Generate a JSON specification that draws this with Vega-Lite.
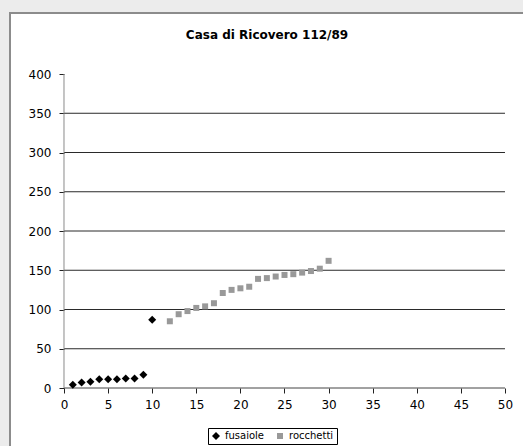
{
  "$schema": "https://vega.github.io/schema/vega-lite/v6.json",
  "autosize": "none",
  "padding": {"left": 10, "top": 13, "right": 0, "bottom": 0},
  "width": 514,
  "height": 434,
  "background": "#ececec",
  "title": {
    "text": "Casa di Ricovero 112/89",
    "font": "DejaVu Sans",
    "fontSize": 12,
    "fontWeight": "bold",
    "color": "#000000",
    "anchor": "middle",
    "frame": "group",
    "baseline": "middle",
    "offset": -34
  },
  "config": {
    "view": {"fill": "#ffffff", "stroke": "#8c8c8c", "strokeWidth": 2},
    "axis": {
      "domain": false,
      "grid": false,
      "title": null,
      "labelFont": "DejaVu Sans",
      "labelFontSize": 12,
      "labelColor": "#000000",
      "tickColor": "#222222",
      "tickSize": 5
    },
    "legend": {
      "labelFont": "DejaVu Sans",
      "labelFontSize": 10,
      "labelColor": "#000000"
    }
  },
  "datasets": {
    "pezzi": [
      {"n": 1, "peso": 4, "serie": "fusaiole"},
      {"n": 2, "peso": 7, "serie": "fusaiole"},
      {"n": 3, "peso": 8, "serie": "fusaiole"},
      {"n": 4, "peso": 11, "serie": "fusaiole"},
      {"n": 5, "peso": 11, "serie": "fusaiole"},
      {"n": 6, "peso": 11, "serie": "fusaiole"},
      {"n": 7, "peso": 12, "serie": "fusaiole"},
      {"n": 8, "peso": 12, "serie": "fusaiole"},
      {"n": 9, "peso": 17, "serie": "fusaiole"},
      {"n": 10, "peso": 87, "serie": "fusaiole"},
      {"n": 12, "peso": 85, "serie": "rocchetti"},
      {"n": 13, "peso": 94, "serie": "rocchetti"},
      {"n": 14, "peso": 98, "serie": "rocchetti"},
      {"n": 15, "peso": 102, "serie": "rocchetti"},
      {"n": 16, "peso": 104, "serie": "rocchetti"},
      {"n": 17, "peso": 108, "serie": "rocchetti"},
      {"n": 18, "peso": 121, "serie": "rocchetti"},
      {"n": 19, "peso": 125, "serie": "rocchetti"},
      {"n": 20, "peso": 127, "serie": "rocchetti"},
      {"n": 21, "peso": 129, "serie": "rocchetti"},
      {"n": 22, "peso": 139, "serie": "rocchetti"},
      {"n": 23, "peso": 140, "serie": "rocchetti"},
      {"n": 24, "peso": 142, "serie": "rocchetti"},
      {"n": 25, "peso": 144, "serie": "rocchetti"},
      {"n": 26, "peso": 145, "serie": "rocchetti"},
      {"n": 27, "peso": 147, "serie": "rocchetti"},
      {"n": 28, "peso": 149, "serie": "rocchetti"},
      {"n": 29, "peso": 152, "serie": "rocchetti"},
      {"n": 30, "peso": 162, "serie": "rocchetti"}
    ],
    "griglia": [
      {"g": 50}, {"g": 100}, {"g": 150}, {"g": 200},
      {"g": 250}, {"g": 300}, {"g": 350}
    ]
  },
  "layer": [
    {
      "data": {"name": "griglia"},
      "mark": {"type": "rule", "color": "#2a2a2a", "strokeWidth": 1},
      "encoding": {
        "y": {"field": "g", "type": "quantitative",
              "scale": {"domain": [-75.159, 477.707], "nice": false, "zero": false},
              "axis": {"values": [0, 50, 100, 150, 200, 250, 300, 350, 400], "offset": -54, "labelPadding": 8, "labelFlush": false, "labelOverlap": false, "title": null}},
        "x": {"datum": 0, "type": "quantitative",
              "scale": {"domain": [-6.1224, 52.1542], "nice": false, "zero": false},
              "axis": {"values": [0, 5, 10, 15, 20, 25, 30, 35, 40, 45, 50], "offset": -59, "labelPadding": 6, "labelFlush": false, "labelOverlap": false, "title": null}},
        "x2": {"datum": 50}
      }
    },
    {
      "data": {"values": [{"a": 0}]},
      "mark": {"type": "rule", "color": "#444444", "strokeWidth": 1},
      "encoding": {
        "y": {"datum": 0, "type": "quantitative",
              "axis": {"values": [0, 50, 100, 150, 200, 250, 300, 350, 400], "offset": -54, "labelPadding": 8, "labelFlush": false, "labelOverlap": false, "title": null}},
        "x": {"datum": 0, "type": "quantitative",
              "axis": {"values": [0, 5, 10, 15, 20, 25, 30, 35, 40, 45, 50], "offset": -59, "labelPadding": 6, "labelFlush": false, "labelOverlap": false, "title": null}},
        "x2": {"datum": 50}
      }
    },
    {
      "data": {"values": [{"a": 0}]},
      "mark": {"type": "rule", "color": "#8a8a8a", "strokeWidth": 1},
      "encoding": {
        "x": {"datum": 0, "type": "quantitative",
              "axis": {"values": [0, 5, 10, 15, 20, 25, 30, 35, 40, 45, 50], "offset": -59, "labelPadding": 6, "labelFlush": false, "labelOverlap": false, "title": null}},
        "y": {"datum": 0, "type": "quantitative",
              "axis": {"values": [0, 50, 100, 150, 200, 250, 300, 350, 400], "offset": -54, "labelPadding": 8, "labelFlush": false, "labelOverlap": false, "title": null}},
        "y2": {"datum": 400}
      }
    },
    {
      "data": {"name": "pezzi"},
      "mark": {"type": "point", "filled": true, "opacity": 1, "strokeWidth": 0},
      "encoding": {
        "x": {
          "field": "n", "type": "quantitative",
          "axis": {"values": [0, 5, 10, 15, 20, 25, 30, 35, 40, 45, 50], "offset": -59, "labelPadding": 6, "labelFlush": false, "labelOverlap": false, "title": null}
        },
        "y": {
          "field": "peso", "type": "quantitative",
          "axis": {"values": [0, 50, 100, 150, 200, 250, 300, 350, 400], "offset": -54, "labelPadding": 8, "labelFlush": false, "labelOverlap": false, "title": null}
        },
        "shape": {
          "field": "serie", "type": "nominal",
          "scale": {"domain": ["fusaiole", "rocchetti"], "range": ["diamond", "square"]},
          "legend": {
            "title": null,
            "orient": "none",
            "direction": "horizontal",
            "legendX": 198,
            "legendY": 415,
            "strokeColor": "#000000",
            "fillColor": "#ffffff",
            "padding": 3,
            "symbolSize": 40,
            "symbolStrokeWidth": 0,
            "columnPadding": 10,
            "labelOffset": 4
          }
        },
        "color": {
          "field": "serie", "type": "nominal",
          "scale": {"domain": ["fusaiole", "rocchetti"], "range": ["#000000", "#999999"]},
          "legend": {
            "title": null,
            "orient": "none",
            "direction": "horizontal",
            "legendX": 198,
            "legendY": 415,
            "strokeColor": "#000000",
            "fillColor": "#ffffff",
            "padding": 3,
            "symbolSize": 40,
            "symbolStrokeWidth": 0,
            "columnPadding": 10,
            "labelOffset": 4
          }
        },
        "size": {
          "field": "serie", "type": "ordinal",
          "scale": {"domain": ["fusaiole", "rocchetti"], "range": [64, 36]},
          "legend": null
        }
      }
    }
  ]
}
